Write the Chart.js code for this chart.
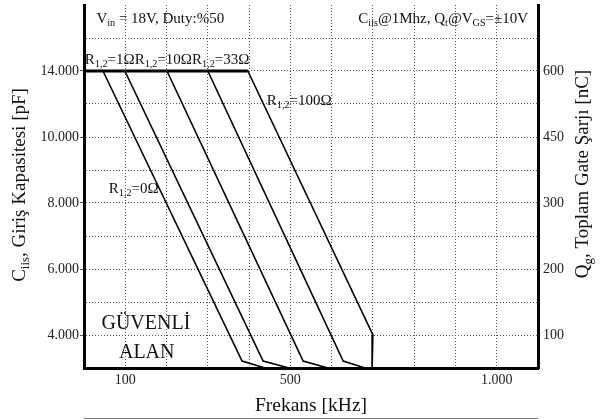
<!DOCTYPE html>
<html><head><meta charset="utf-8">
<script src="https://cdn.jsdelivr.net/npm/chart.js@4/dist/chart.umd.min.js"></script>
<style>html,body{margin:0;padding:0;background:#fff}canvas{display:block}</style>
</head><body>
<canvas id="c" width="607" height="419"></canvas>
<script>
// Axis positions are in grid units (the reference axes are non-linear, labelled grid lines)
const xTickLabels = {1: '100', 5: '500', 10: '1.000'};
const yLeftLabels = {1: '4.000', 3: '6.000', 5: '8.000', 7: '10.000', 9: '14.000'};
const yRightLabels = {1: '100', 3: '200', 5: '300', 7: '450', 9: '600'};

// Saturation plateau (Ciis = 14.000 pF)
const plateauX = [0, 3.97];
const plateauY = [9, 9];
// Limit curves for each gate resistance
const r0X = [0.46, 3.83, 4.39];   const r0Y = [9, 0.21, 0];
const r1X = [0.99, 4.34, 4.97];   const r1Y = [9, 0.21, 0];
const r10X = [2.01, 5.31, 5.91];  const r10Y = [9, 0.21, 0];
const r33X = [3.00, 6.28, 6.81];  const r33Y = [9, 0.21, 0];
const r100X = [3.97, 7.00, 6.98]; const r100Y = [9, 1.0, 0];

const pts = (xs, ys) => xs.map((x, i) => ({x, y: ys[i]}));
const FONT = '"Liberation Serif", "DejaVu Serif", serif';

function rich(ctx, segs, x, y, size, align) {
  let w = 0;
  segs.forEach(s => { ctx.font = (s.sub ? size * 0.68 : size) + 'px ' + FONT; w += ctx.measureText(s.t).width; });
  if (align === 'right') x -= w; else if (align === 'center') x -= w / 2;
  segs.forEach(s => {
    const fs = s.sub ? size * 0.68 : size;
    ctx.font = fs + 'px ' + FONT;
    ctx.fillText(s.t, x, s.sub ? y + size * 0.22 : y);
    x += ctx.measureText(s.t).width;
  });
}
const R = v => [{t: 'R'}, {t: '1,2', sub: true}, {t: '=' + v + 'Ω'}];

const notes = [
  {x: 0.3, y: 10.45, size: 15, align: 'left', segs: [{t: 'V'}, {t: 'in', sub: true}, {t: ' = 18V, Duty:%50'}]},
  {x: 10.76, y: 10.45, size: 15, align: 'right', segs: [{t: 'C'}, {t: 'iis', sub: true}, {t: '@1Mhz, Q'}, {t: 't', sub: true}, {t: '@V'}, {t: 'GS', sub: true}, {t: '=±10V'}]},
  {x: 0.02, y: 9.21, size: 15, align: 'left', segs: [...R('1'), ...R('10'), ...R('33')]},
  {x: 4.43, y: 7.97, size: 15, align: 'left', segs: R('100')},
  {x: 0.6, y: 5.3, size: 15, align: 'left', segs: R('0')},
  {x: 1.5, y: 1.18, size: 20, align: 'center', segs: [{t: 'GÜVENLİ'}]},
  {x: 1.52, y: 0.3, size: 20, align: 'center', segs: [{t: 'ALAN'}]}
];

const textPlugin = {
  id: 'texts',
  afterDatasetsDraw(chart) {
    const ctx = chart.ctx, xs = chart.scales.x, ys = chart.scales.y;
    ctx.save();
    ctx.fillStyle = '#111';
    ctx.textBaseline = 'alphabetic';
    ctx.textAlign = 'left';
    notes.forEach(n => rich(ctx, n.segs, xs.getPixelForValue(n.x), ys.getPixelForValue(n.y), n.size, n.align));
    ctx.restore();
  },
  afterDraw(chart) {
    const ctx = chart.ctx, a = chart.chartArea;
    ctx.save();
    ctx.fillStyle = '#111';
    ctx.textAlign = 'left';
    ctx.textBaseline = 'alphabetic';
    // left title
    ctx.save();
    ctx.translate(25, 185);
    ctx.rotate(-Math.PI / 2);
    rich(ctx, [{t: 'C'}, {t: 'iis', sub: true}, {t: ', Giriş Kapasitesi [pF]'}], 0, 0, 19, 'center');
    ctx.restore();
    // right title
    ctx.save();
    ctx.translate(588, 174);
    ctx.rotate(-Math.PI / 2);
    rich(ctx, [{t: 'Q'}, {t: 'g', sub: true}, {t: ', Toplam Gate Şarjı [nC]'}], 0, 0, 19, 'center');
    ctx.restore();
    // x title
    rich(ctx, [{t: 'Frekans [kHz]'}], (a.left + a.right) / 2, 411, 19.5, 'center');
    // bottom rule
    ctx.strokeStyle = '#777';
    ctx.lineWidth = 1;
    ctx.beginPath();
    ctx.moveTo(a.left, 418.5);
    ctx.lineTo(a.right, 418.5);
    ctx.stroke();
    ctx.restore();
  }
};

const lineDs = (xs, ys, w) => ({data: pts(xs, ys), showLine: true, borderColor: '#000', backgroundColor: '#000', borderWidth: w, pointRadius: 0, tension: 0, fill: false});
const noPadV = s => { s.paddingTop = 0; s.paddingBottom = 0; };

new Chart(document.getElementById('c'), {
  type: 'scatter',
  data: {datasets: [
    lineDs(plateauX, plateauY, 3),
    lineDs(r0X, r0Y, 1.6),
    lineDs(r1X, r1Y, 1.6),
    lineDs(r10X, r10Y, 1.6),
    lineDs(r33X, r33Y, 1.6),
    lineDs(r100X, r100Y, 1.6)
  ]},
  options: {
    responsive: false,
    animation: false,
    devicePixelRatio: 1,
    layout: {padding: {top: 5, left: 0, right: 0, bottom: 0}},
    plugins: {legend: {display: false}, tooltip: {enabled: false}},
    scales: {
      x: {
        type: 'linear', position: 'bottom', min: 0, max: 11,
        afterFit(s) { s.height = 51; s.paddingLeft = 0; s.paddingRight = 0; },
        ticks: {stepSize: 1, autoSkip: false, maxRotation: 0, padding: 4, color: '#222',
          font: {family: FONT, size: 14}, callback: v => xTickLabels[v] ?? ''},
        grid: {color: c => (c.tick && (c.tick.value === 0 || c.tick.value === 11)) ? 'rgba(0,0,0,0)' : '#555', lineWidth: 1, drawTicks: false},
        border: {color: '#000', width: 3, dash: [1, 2]}
      },
      y: {
        type: 'linear', position: 'left', min: 0, max: 11,
        afterFit(s) { s.width = 84; noPadV(s); },
        ticks: {stepSize: 1, autoSkip: false, padding: 1, color: '#222',
          font: {family: FONT, size: 14}, callback: v => yLeftLabels[v] ?? ''},
        grid: {color: c => (c.tick && (c.tick.value === 0 || c.tick.value === 11)) ? 'rgba(0,0,0,0)' : '#555', lineWidth: 1, tickLength: 4,
          tickColor: c => (c.tick && yLeftLabels[c.tick.value]) ? '#555' : 'rgba(0,0,0,0)'},
        border: {color: '#000', width: 3, dash: [1, 2]}
      },
      y2: {
        type: 'linear', position: 'right', min: 0, max: 11,
        afterFit(s) { s.width = 69; noPadV(s); },
        ticks: {stepSize: 1, autoSkip: false, padding: 5, color: '#222',
          font: {family: FONT, size: 14}, callback: v => yRightLabels[v] ?? ''},
        grid: {display: false, drawTicks: false, drawOnChartArea: false},
        border: {color: '#000', width: 3}
      }
    }
  },
  plugins: [textPlugin]
});
</script>
</body></html>
